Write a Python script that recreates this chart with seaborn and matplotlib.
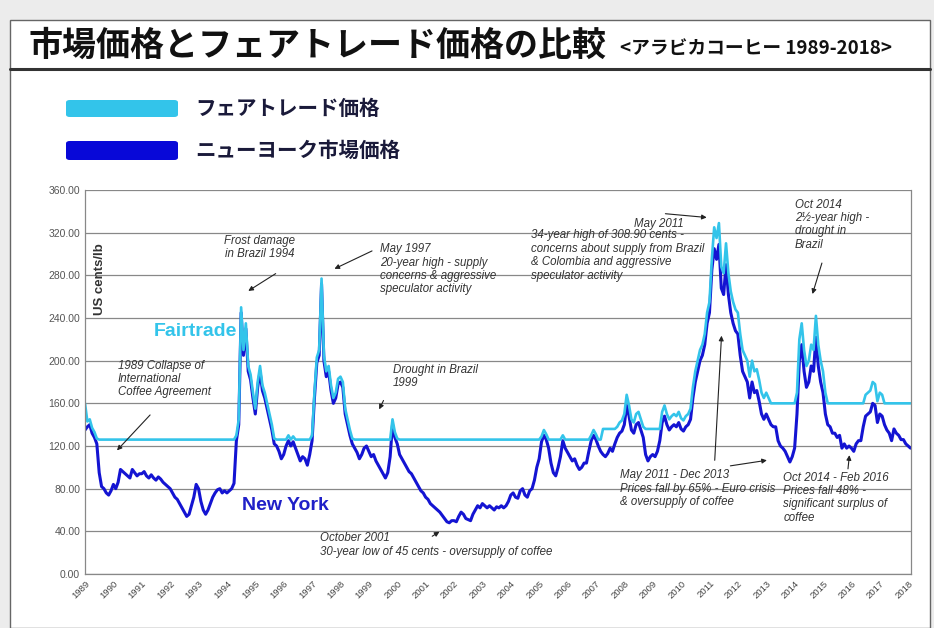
import numpy as np
import pandas as pd
import matplotlib
matplotlib.use("Agg")
import matplotlib.pyplot as plt
import seaborn as sns
from matplotlib.patches import Rectangle, FancyBboxPatch
from matplotlib.lines import Line2D

sns.set_theme(style="white")
plt.rcParams["font.family"] = ["Liberation Sans", "Noto Sans CJK JP", "DejaVu Sans"]

# monthly prices, US cents/lb, Jan 1989 - Feb 2018
ny_price = [
    135, 138, 140, 132, 128, 122, 95, 82, 80, 76, 74, 78,        # 1989
    84, 80, 86, 98, 96, 94, 92, 90, 98, 95, 92, 94,              # 1990
    94, 96, 92, 90, 93, 90, 88, 91, 89, 86, 84, 82,              # 1991
    80, 76, 72, 70, 66, 62, 58, 54, 56, 64, 72, 84,              # 1992
    80, 68, 60, 56, 60, 66, 72, 76, 79, 80, 76, 78,              # 1993
    76, 78, 80, 85, 125, 140, 245, 205, 230, 190, 182, 165,      # 1994
    150, 175, 190, 172, 165, 155, 145, 135, 122, 120, 115, 108,  # 1995
    112, 120, 125, 120, 124, 118, 112, 106, 110, 108, 102, 112,  # 1996
    125, 165, 198, 205, 272, 200, 185, 190, 172, 160, 165, 178,  # 1997
    180, 175, 150, 140, 130, 122, 118, 114, 108, 112, 118, 120,  # 1998
    115, 110, 112, 106, 102, 98, 94, 90, 95, 110, 140, 128,      # 1999
    122, 112, 108, 104, 100, 96, 94, 90, 86, 82, 78, 76,         # 2000
    72, 70, 66, 64, 62, 60, 58, 55, 52, 49, 48, 50,              # 2001
    50, 49, 54, 58, 56, 52, 51, 50, 56, 60, 64, 62,              # 2002
    66, 64, 62, 64, 62, 60, 63, 62, 64, 62, 64, 68,              # 2003
    74, 76, 72, 71, 78, 80, 74, 72, 78, 80, 88, 100,             # 2004
    108, 124, 130, 126, 118, 104, 95, 92, 100, 110, 125, 118,    # 2005
    114, 110, 106, 108, 102, 98, 100, 104, 104, 115, 125, 130,   # 2006
    126, 120, 115, 112, 110, 113, 118, 115, 122, 128, 132, 134,  # 2007
    140, 158, 148, 135, 132, 140, 142, 135, 128, 112, 106, 110,  # 2008
    112, 110, 115, 125, 142, 148, 140, 135, 138, 140, 138, 142,  # 2009
    136, 134, 138, 140, 145, 165, 180, 190, 200, 205, 215, 235,  # 2010
    245, 285, 305, 295, 309, 268, 262, 290, 262, 245, 235, 228,  # 2011
    225, 205, 190, 185, 180, 165, 180, 170, 172, 162, 150, 145,  # 2012
    150, 145, 140, 138, 138, 125, 120, 118, 115, 110, 105, 110,  # 2013
    118, 150, 200, 215, 190, 175, 180, 195, 190, 222, 195, 180,  # 2014
    170, 150, 140, 138, 132, 132, 128, 130, 118, 122, 118, 120,  # 2015
    118, 115, 122, 125, 125, 138, 148, 150, 152, 160, 158, 142,  # 2016
    150, 148, 140, 135, 132, 125, 136, 132, 130, 126, 126, 122,  # 2017
    120, 118,                                                    # 2018
]

fairtrade_price = [
    160, 143, 145, 137, 133, 127, 126, 126, 126, 126, 126, 126,  # 1989
    126, 126, 126, 126, 126, 126, 126, 126, 126, 126, 126, 126,  # 1990
    126, 126, 126, 126, 126, 126, 126, 126, 126, 126, 126, 126,  # 1991
    126, 126, 126, 126, 126, 126, 126, 126, 126, 126, 126, 126,  # 1992
    126, 126, 126, 126, 126, 126, 126, 126, 126, 126, 126, 126,  # 1993
    126, 126, 126, 126, 130, 145, 250, 210, 235, 195, 187, 170,  # 1994
    155, 180, 195, 177, 170, 160, 150, 140, 127, 126, 126, 126,  # 1995
    126, 126, 130, 126, 129, 126, 126, 126, 126, 126, 126, 126,  # 1996
    130, 170, 203, 210, 277, 205, 190, 195, 177, 165, 170, 183,  # 1997
    185, 180, 155, 145, 135, 127, 126, 126, 126, 126, 126, 126,  # 1998
    126, 126, 126, 126, 126, 126, 126, 126, 126, 126, 145, 133,  # 1999
    127, 126, 126, 126, 126, 126, 126, 126, 126, 126, 126, 126,  # 2000
    126, 126, 126, 126, 126, 126, 126, 126, 126, 126, 126, 126,  # 2001
    126, 126, 126, 126, 126, 126, 126, 126, 126, 126, 126, 126,  # 2002
    126, 126, 126, 126, 126, 126, 126, 126, 126, 126, 126, 126,  # 2003
    126, 126, 126, 126, 126, 126, 126, 126, 126, 126, 126, 126,  # 2004
    126, 129, 135, 131, 126, 126, 126, 126, 126, 126, 130, 126,  # 2005
    126, 126, 126, 126, 126, 126, 126, 126, 126, 126, 130, 135,  # 2006
    131, 126, 126, 136, 136, 136, 136, 136, 136, 138, 142, 144,  # 2007
    150, 168, 158, 145, 142, 150, 152, 145, 138, 136, 136, 136,  # 2008
    136, 136, 136, 136, 152, 158, 150, 145, 148, 150, 148, 152,  # 2009
    146, 144, 148, 150, 155, 175, 190, 200, 210, 215, 225, 245,  # 2010
    255, 295, 325, 315, 329, 288, 282, 310, 282, 265, 255, 248,  # 2011
    245, 225, 210, 205, 200, 185, 200, 190, 192, 182, 170, 165,  # 2012
    170, 165, 160, 160, 160, 160, 160, 160, 160, 160, 160, 160,  # 2013
    160, 170, 220, 235, 210, 195, 200, 215, 210, 242, 215, 200,  # 2014
    190, 170, 160, 160, 160, 160, 160, 160, 160, 160, 160, 160,  # 2015
    160, 160, 160, 160, 160, 160, 168, 170, 172, 180, 178, 162,  # 2016
    170, 168, 160, 160, 160, 160, 160, 160, 160, 160, 160, 160,  # 2017
    160, 160,                                                    # 2018
]

year_labels = [str(y) for y in range(1989, 2019)]
y_ticks = [0, 40, 80, 120, 160, 200, 240, 280, 320, 360]

title = "市場価格とフェアトレード価格の比較"
subtitle = "<アラビカコーヒー 1989-2018>"
legend_labels = ["フェアトレード価格", "ニューヨーク市場価格"]

CYAN = "#33c4ea"
BLUE = "#1414d2"
W, H = 934, 628


def fx(px):
    return px / W


def fy(py):
    return 1 - py / H


months = pd.date_range("1989-01-01", periods=len(ny_price), freq="MS")
t = months.year + (months.month - 1) / 12
df = pd.DataFrame({"t": t, "ny": ny_price, "ft": fairtrade_price})

fig = plt.figure(figsize=(W / 100, H / 100), dpi=100, facecolor="#ececec")

# page panel + title band
fig.patches.append(Rectangle((fx(10), 0), fx(920), fy(20), transform=fig.transFigure,
                             facecolor="white", edgecolor="#666666", lw=1, zorder=-5))
fig.lines.append(Line2D([fx(10), fx(930)], [fy(69), fy(69)], transform=fig.transFigure,
                        color="#333333", lw=2.2))
fig.text(fx(28), fy(45), title, family="Noto Sans CJK JP", fontweight="bold",
         fontsize=24.5, va="center", ha="left", color="#111111")
fig.text(fx(620), fy(48), subtitle, family="Noto Sans CJK JP", fontweight="bold",
         fontsize=13.5, va="center", ha="left", color="#111111")

# legend swatches
for (top, bot), col, lab in zip([(100, 117), (141, 160)], [CYAN, "#0808d8"], legend_labels):
    fig.patches.append(FancyBboxPatch((fx(66), fy(bot)), fx(112), fy(top) - fy(bot),
                                      boxstyle="round,pad=0.0,rounding_size=0.004",
                                      transform=fig.transFigure, facecolor=col,
                                      edgecolor="none"))
    fig.text(fx(195), fy((top + bot) / 2), lab, family="Noto Sans CJK JP",
             fontweight="bold", fontsize=14.8, va="center", ha="left", color="#1a1a3a")

ax = fig.add_axes([fx(85), fy(574), fx(911 - 85), fy(190) - fy(574)])
ax.set_zorder(3)
sns.lineplot(data=df, x="t", y="ny", ax=ax, color=BLUE, lw=2.2)
sns.lineplot(data=df, x="t", y="ft", ax=ax, color=CYAN, lw=1.9)

ax.set_xlim(1989, 2018.1)
ax.set_ylim(0, 360)
ax.set_yticks(y_ticks)
ax.set_yticklabels([f"{v:.2f}" for v in y_ticks], fontsize=7.5, color="#555555")
ax.set_xticks(range(1989, 2019))
ax.set_xticklabels(year_labels, rotation=45, ha="right", rotation_mode="anchor",
                   fontsize=6.8, color="#444444")
ax.set_xlabel("")
ax.set_ylabel("")
ax.grid(axis="y", color="#888888", lw=0.9)
ax.set_axisbelow(True)
ax.spines["top"].set_visible(False)
for s in ["left", "bottom", "right"]:
    ax.spines[s].set_color("#888888")
    ax.spines[s].set_linewidth(0.9)
ax.tick_params(axis="both", length=3, color="#888888", direction="inout", pad=2)

ax.text(1989.53, 276, "US cents/lb", rotation=90, fontsize=9.5, fontweight="bold",
        color="#333333", ha="center", va="center")
ax.text(1992.9, 227, "Fairtrade", fontsize=14, fontweight="bold", color=CYAN,
        ha="center", va="center")
ax.text(1996.05, 64, "New York", fontsize=14, fontweight="bold", color="#2020c8",
        ha="center", va="center")

note = dict(fontsize=8.3, style="italic", color="#333333", linespacing=1.15)
arrow = dict(arrowstyle="-|>", color="#222222", lw=0.8, mutation_scale=7)

ax.text(1995.15, 318, "Frost damage\nin Brazil 1994", ha="center", va="top",
        multialignment="center", **note)
ax.annotate("", xy=(1994.67, 264), xytext=(1995.8, 283), arrowprops=arrow)

ax.text(1999.4, 310, "May 1997\n20-year high - supply\nconcerns & aggressive\nspeculator activity",
        ha="left", va="top", **note)
ax.annotate("", xy=(1997.7, 285), xytext=(1999.2, 304), arrowprops=arrow)

ax.text(1990.15, 201, "1989 Collapse of\nInternational\nCoffee Agreement",
        ha="left", va="top", **note)
ax.annotate("", xy=(1990.06, 114), xytext=(1991.36, 151), arrowprops=arrow)

ax.text(1999.85, 197, "Drought in Brazil\n1999", ha="left", va="top", **note)
ax.annotate("", xy=(1999.32, 152), xytext=(1999.56, 165), arrowprops=arrow)

ax.text(1997.27, 39, "October 2001\n30-year low of 45 cents - oversupply of coffee",
        ha="left", va="top", **note)
ax.annotate("", xy=(2001.57, 41), xytext=(2001.15, 34), arrowprops=arrow)

ax.text(2009.2, 334, "May 2011", ha="center", va="top", **note)
ax.text(2004.7, 323, "34-year high of 308.90 cents -\nconcerns about supply from Brazil\n"
        "& Colombia and aggressive\nspeculator activity", ha="left", va="top", **note)
ax.annotate("", xy=(2011.0, 334), xytext=(2009.35, 338), arrowprops=arrow)

ax.text(2014.0, 352, "Oct 2014\n2½-year high -\ndrought in\nBrazil", ha="left", va="top", **note)
ax.annotate("", xy=(2014.6, 260), xytext=(2014.99, 294), arrowprops=arrow)

ax.text(2007.85, 98, "May 2011 - Dec 2013\nPrices fall by 65% - Euro crisis\n& oversupply of coffee",
        ha="left", va="top", **note)
ax.annotate("", xy=(2011.43, 226), xytext=(2011.18, 104), arrowprops=arrow)
ax.annotate("", xy=(2013.12, 107), xytext=(2011.64, 101), arrowprops=arrow)

ax.text(2013.6, 96, "Oct 2014 - Feb 2016\nPrices fall 48% -\nsignificant surplus of\ncoffee",
        ha="left", va="top", **note)
ax.annotate("", xy=(2015.94, 114), xytext=(2015.87, 96), arrowprops=arrow)

fig.savefig("out.png", dpi=100, facecolor=fig.get_facecolor())
